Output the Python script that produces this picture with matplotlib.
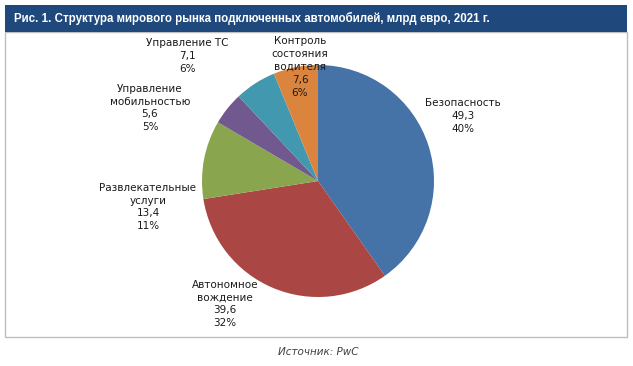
import numpy as np
import matplotlib
matplotlib.use('Agg')
from matplotlib import pyplot as plt
from matplotlib.patches import Rectangle

# data
categories = ['Безопасность', 'Автономное\nвождение', 'Развлекательные\nуслуги',
              'Управление\nмобильностью', 'Управление ТС', 'Контроль\nсостояния\nводителя']
values = [49.3, 39.6, 13.4, 5.6, 7.1, 7.6]
shares = ['40%', '32%', '11%', '5%', '6%', '6%']
colors = ['#4572A7', '#AA4643', '#89A54E', '#71588F', '#4198AF', '#DB843D']
# label anchor positions (pixels, image coords)
label_pos = [(463, 116), (225, 304), (148, 207), (150, 108), (187, 56), (300, 67)]

W, H = 633, 366
fig = plt.figure(figsize=(W / 100, H / 100), dpi=100)
ax = fig.add_axes([0, 0, 1, 1])

# frame and title bar
ax.add_patch(Rectangle((5, H - 337), 622, 305, facecolor='white', edgecolor='#BFBFBF', lw=1))
ax.add_patch(Rectangle((5, H - 32), 622, 27, facecolor='#1F497D', edgecolor='none'))
ax.text(14, H - 18.5, 'Рис. 1. Структура мирового рынка подключенных автомобилей, млрд евро, 2021 г.',
        color='white', fontsize=8.3, fontweight='bold', va='center', ha='left',
        family=['Liberation Sans', 'DejaVu Sans'])

ax.pie(values, colors=colors, startangle=90, counterclock=False,
       center=(318, H - 181), radius=116, frame=True,
       wedgeprops=dict(linewidth=0))
ax.set_xlim(0, W)
ax.set_ylim(0, H)
ax.set_aspect('equal')
ax.axis('off')

for cat, v, s, (x, y) in zip(categories, values, shares, label_pos):
    txt = cat + '\n' + ('%.1f' % v).replace('.', ',') + '\n' + s
    ax.text(x, H - y, txt, ha='center', va='center', fontsize=7.5,
            color='#1a1a1a', linespacing=1.35)

ax.text(318, H - 352, 'Источник: PwC', ha='center', va='center',
        fontsize=7.5, style='italic', color='#404040')

fig.savefig('out.png', dpi=100)
